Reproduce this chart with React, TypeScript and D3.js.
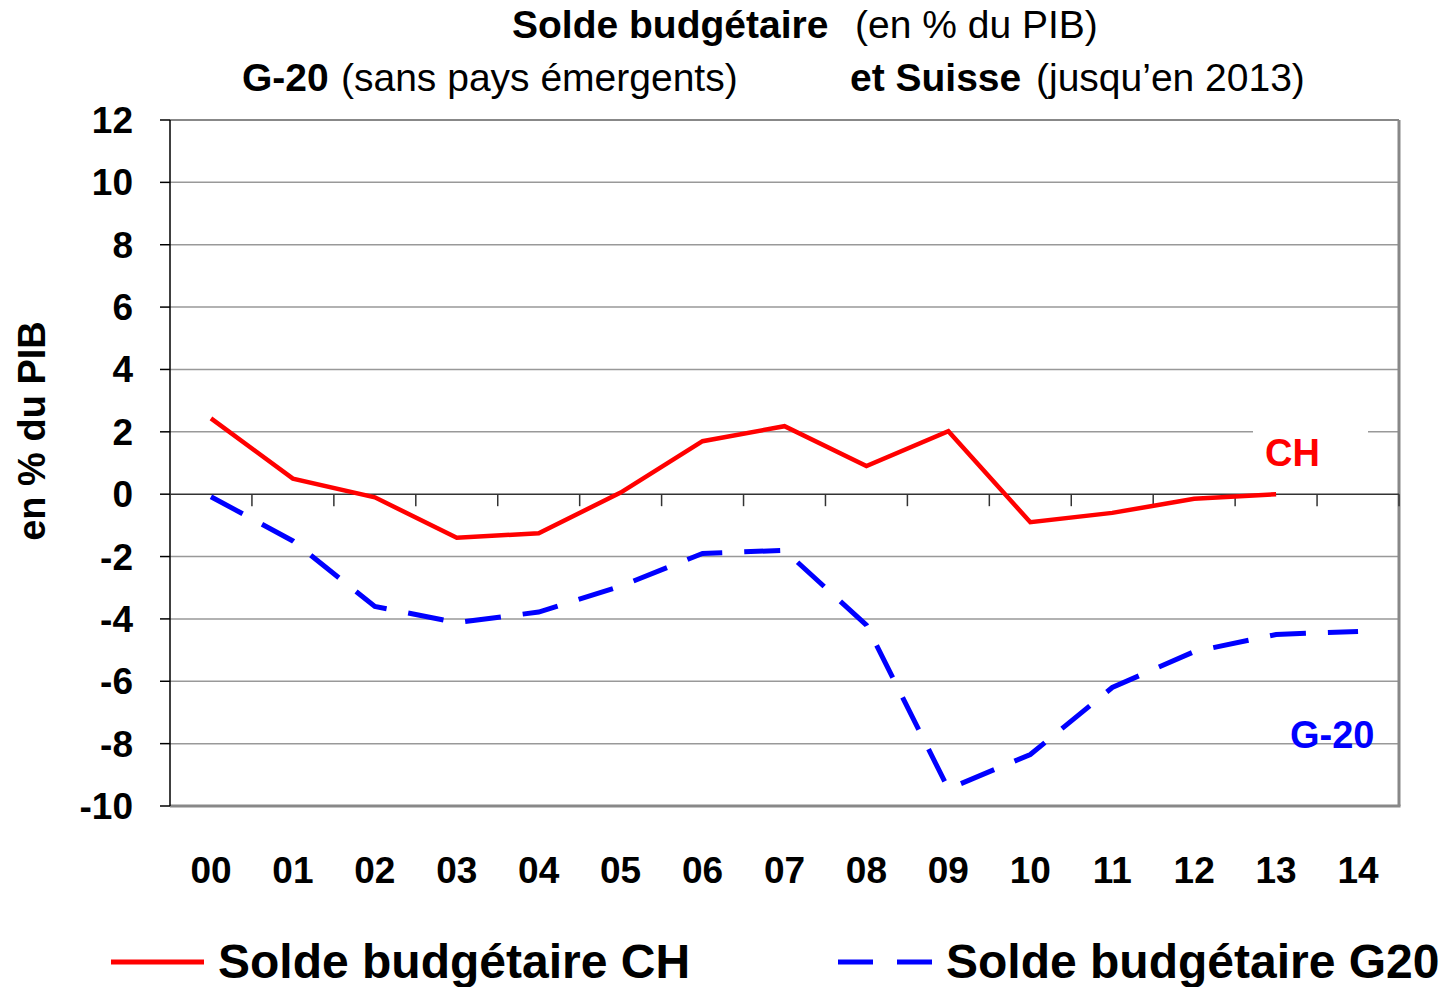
import React from "react";
import * as d3 from "d3";

const years = ["00","01","02","03","04","05","06","07","08","09","10","11","12","13","14"];
const chValues: (number | null)[] = [2.43, 0.5, -0.1, -1.4, -1.25, 0.05, 1.7, 2.18, 0.9, 2.02, -0.9, -0.6, -0.15, 0.0, null];
const g20Values: number[] = [-0.08, -1.5, -3.6, -4.12, -3.78, -2.95, -1.9, -1.8, -4.2, -9.45, -8.35, -6.2, -5.05, -4.5, -4.4];
const yTicks = [12, 10, 8, 6, 4, 2, 0, -2, -4, -6, -8, -10];

const FONT = "'Liberation Sans', Arial, Helvetica, sans-serif";

export default function App() {
  const W = 1450, H = 987;
  const left = 170, right = 1399, top = 120, bottom = 806;
  const x = d3.scaleBand<string>().domain(years).range([left, right]);
  const y = d3.scaleLinear().domain([-10, 12]).range([bottom, top]);
  const cx = (i: number) => (x(years[i]) as number) + x.bandwidth() / 2;

  const chLine = d3.line<number | null>()
    .defined((d) => d !== null)
    .x((_, i) => cx(i))
    .y((d) => y(d as number));
  const g20Line = d3.line<number>().x((_, i) => cx(i)).y((d) => y(d));

  const y0 = y(0);
  const boundaries = d3.range(1, years.length + 1).map((k) => left + k * x.step());

  return (
    <svg width={W} height={H} style={{ position: "absolute", left: 0, top: 0, background: "#fff" }} fontFamily={FONT}>
      <rect x={0} y={0} width={W} height={H} fill="#fff" />
      {/* Titles */}
      <text x={512} y={38} fontSize={39} fontWeight="bold" fill="#000">Solde budgétaire</text>
      <text x={855} y={38} fontSize={39} fill="#000">(en % du PIB)</text>
      <text x={242} y={91} fontSize={39} fontWeight="bold" fill="#000">G-20</text>
      <text x={341} y={91} fontSize={39} fill="#000">(sans pays émergents)</text>
      <text x={850} y={91} fontSize={39} fontWeight="bold" fill="#000">et Suisse</text>
      <text x={1036} y={91} fontSize={39} fill="#000">(jusqu’en 2013)</text>

      {/* gridlines */}
      {yTicks.filter((t) => t !== 0 && t !== -10).map((t) => (
        <line key={t} x1={left} x2={right} y1={y(t)} y2={y(t)} stroke="#999" strokeWidth={1.5} />
      ))}
      {/* frame */}
      <line x1={left} x2={right} y1={top} y2={top} stroke="#888" strokeWidth={2} />
      <line x1={right} x2={right} y1={top} y2={bottom} stroke="#888" strokeWidth={3} />
      <line x1={left} x2={right + 1.5} y1={bottom} y2={bottom} stroke="#888" strokeWidth={3} />
      {/* y axis */}
      <line x1={left} x2={left} y1={top} y2={bottom} stroke="#000" strokeWidth={1.5} />
      {yTicks.map((t) => (
        <g key={t}>
          <line x1={left - 10} x2={left} y1={y(t)} y2={y(t)} stroke="#000" strokeWidth={1.5} />
          <text x={133} y={y(t) + 13} fontSize={37} fontWeight="bold" textAnchor="end" fill="#000">{t}</text>
        </g>
      ))}
      {/* zero axis */}
      <line x1={left} x2={right} y1={y0} y2={y0} stroke="#333" strokeWidth={1.5} />
      {boundaries.map((bx, i) => (
        <line key={i} x1={bx} x2={bx} y1={y0} y2={y0 + 12} stroke="#333" strokeWidth={1.5} />
      ))}
      {/* y label */}
      <text transform={`translate(45,431) rotate(-90)`} fontSize={38} fontWeight="bold" textAnchor="middle" fill="#000">en % du PIB</text>

      {/* x labels */}
      {years.map((yr, i) => (
        <text key={yr} x={cx(i)} y={883} fontSize={37} fontWeight="bold" textAnchor="middle" fill="#000">{yr}</text>
      ))}

      {/* CH label box */}
      <rect x={1253} y={426} width={115} height={48} fill="#fff" />
      <text x={1265} y={466} fontSize={38} fontWeight="bold" fill="#FF0000">CH</text>
      <text x={1290} y={748} fontSize={38} fontWeight="bold" fill="#0000FF">G-20</text>

      {/* series */}
      <path d={chLine(chValues) || ""} fill="none" stroke="#FF0000" strokeWidth={4.5} strokeLinejoin="miter" />
      <path d={g20Line(g20Values) || ""} fill="none" stroke="#0000FF" strokeWidth={5} strokeDasharray="36 22" />

      {/* legend */}
      <line x1={111} x2={204} y1={962} y2={962} stroke="#FF0000" strokeWidth={5} />
      <text x={218} y={978} fontSize={48} fontWeight="bold" fill="#000">Solde budgétaire CH</text>
      <line x1={838} x2={932} y1={962} y2={962} stroke="#0000FF" strokeWidth={5} strokeDasharray="35 24" />
      <text x={946} y={978} fontSize={48} fontWeight="bold" fill="#000">Solde budgétaire G20</text>
    </svg>
  );
}
